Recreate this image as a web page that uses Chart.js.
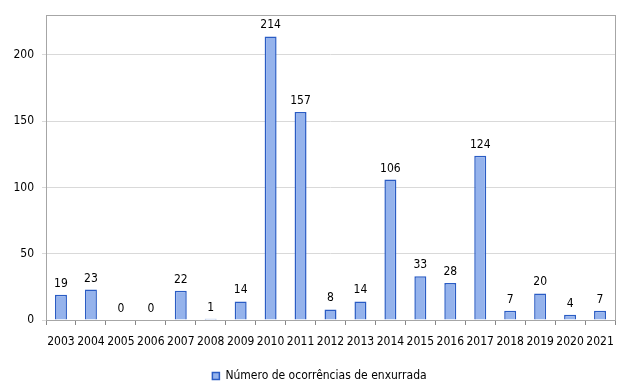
<!DOCTYPE html>
<html>
<head>
<meta charset="utf-8">
<script src="https://cdn.jsdelivr.net/npm/chart.js@4.4.1/dist/chart.umd.min.js"></script>
<style>
  html, body { margin: 0; padding: 0; background: #fff; }
  #wrap { width: 630px; height: 392px; position: relative; }
</style>
</head>
<body>
<div id="wrap"><canvas id="enxurradaChart"></canvas></div>
<script>
// dados
const anos = ['2003', '2004', '2005', '2006', '2007', '2008', '2009', '2010', '2011', '2012',
              '2013', '2014', '2015', '2016', '2017', '2018', '2019', '2020', '2021'];
const ocorrencias = [19, 23, 0, 0, 22, 1, 14, 214, 157, 8, 14, 106, 33, 28, 124, 7, 20, 4, 7];
const yTicks = [0, 50, 100, 150, 200];
const serieLabel = 'Número de ocorrências de enxurrada';

const FONT = "'DejaVu Sans Condensed', 'DejaVu Sans', sans-serif";
const FSIZE = 12;

// moldura cinza em volta da área do gráfico
const plotBorder = {
    id: 'plotBorder',
    beforeDatasetsDraw(chart) {
        const { ctx, chartArea: a } = chart;
        ctx.save();
        ctx.strokeStyle = '#a6a6a6';
        ctx.lineWidth = 1;
        ctx.strokeRect(Math.round(a.left) + 0.5, Math.round(a.top) + 0.5,
                       Math.round(a.right - a.left), Math.round(a.bottom - a.top));
        ctx.restore();
    }
};

// legenda um pouco à direita, como no original
const legendShift = {
    id: 'legendShift',
    afterLayout(chart) {
        if (chart.legend) {
            chart.legend.left += 12;
            chart.legend.right += 12;
        }
    }
};

// rótulos de valor acima das barras
const valueLabels = {
    id: 'valueLabels',
    afterDatasetsDraw(chart) {
        const { ctx } = chart;
        const meta = chart.getDatasetMeta(0);
        ctx.save();
        ctx.font = FSIZE + 'px ' + FONT;
        ctx.fillStyle = '#000';
        ctx.textAlign = 'center';
        ctx.textBaseline = 'alphabetic';
        meta.data.forEach((bar, i) => {
            ctx.fillText(String(ocorrencias[i]), bar.x, bar.y - 8);
        });
        ctx.restore();
    }
};

new Chart(document.getElementById('enxurradaChart'), {
    type: 'bar',
    data: {
        labels: anos,
        datasets: [{
            label: serieLabel,
            data: ocorrencias,
            backgroundColor: '#95b3ec',
            borderColor: '#2a5cc4',
            borderWidth: 1.5,
            borderSkipped: 'bottom',
            barPercentage: 0.8,
            categoryPercentage: 0.5
        }]
    },
    options: {
        responsive: true,
        maintainAspectRatio: false,
        animation: false,
        layout: { padding: { top: 14, right: 15, left: 0, bottom: 0 } },
        scales: {
            x: {
                grid: {
                    offset: true,
                    drawOnChartArea: false,
                    drawTicks: true,
                    tickLength: 5,
                    color: '#868686'
                },
                border: { color: '#868686' },
                ticks: {
                    color: '#000',
                    font: { family: FONT, size: FSIZE },
                    padding: 10,
                    maxRotation: 0,
                    autoSkip: false
                },
                afterFit(scale) { scale.height = 42; }
            },
            y: {
                min: 0,
                max: 230,
                afterBuildTicks(scale) { scale.ticks = yTicks.map(v => ({ value: v })); },
                grid: { color: '#d9d9d9', tickLength: 4 },
                border: { display: false },
                ticks: {
                    color: '#000',
                    font: { family: FONT, size: FSIZE },
                    padding: 8
                },
                afterFit(scale) { scale.width = 46; }
            }
        },
        plugins: {
            legend: {
                position: 'bottom',
                labels: {
                    color: '#000',
                    font: { family: FONT, size: FSIZE },
                    boxWidth: 7,
                    boxHeight: 7,
                    padding: 8
                }
            },
            tooltip: { enabled: false }
        }
    },
    plugins: [plotBorder, legendShift, valueLabels]
});
</script>
</body>
</html>
